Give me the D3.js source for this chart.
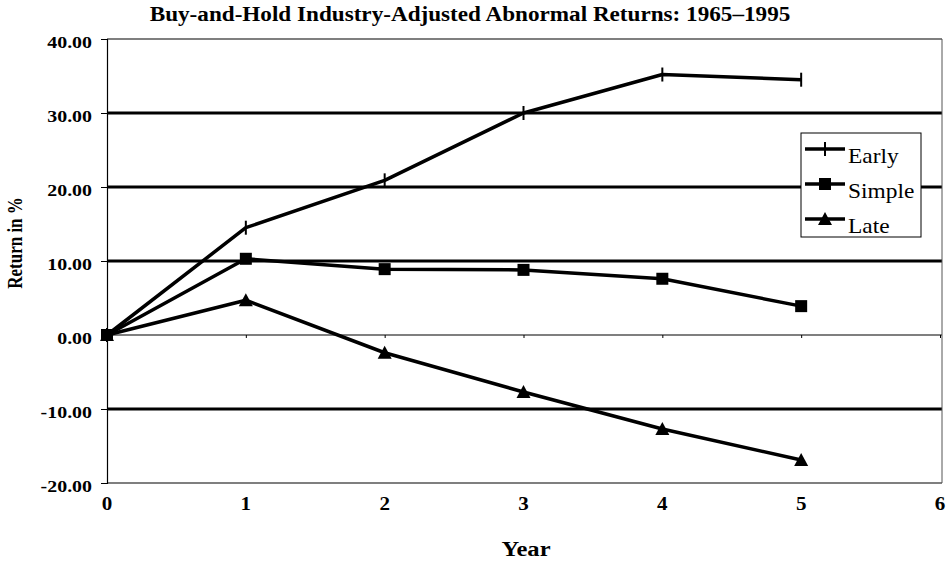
<!DOCTYPE html>
<html>
<head>
<meta charset="utf-8">
<script src="https://cdn.jsdelivr.net/npm/d3@7"></script>
<style>
  body { margin: 0; background: #fff; }
  svg { font-family: "Liberation Serif", "Times New Roman", serif; }
</style>
</head>
<body>
<svg id="chart" width="951" height="562"></svg>
<script>
// values
var years = [0, 1, 2, 3, 4, 5];
var early = [0, 14.5, 20.9, 30.0, 35.2, 34.5];
var simple = [0, 10.3, 8.9, 8.8, 7.6, 3.9];
var late = [0, 4.7, -2.4, -7.7, -12.7, -16.9];
var seriesNames = ["Early", "Simple", "Late"];
var yTicks = [-20, -10, 0, 10, 20, 30, 40];
var xTicks = [0, 1, 2, 3, 4, 5, 6];

var svg = d3.select("#chart");

var x = d3.scaleLinear().domain([0, 6]).range([107, 940]);
var y = d3.scaleLinear().domain([-20, 40]).range([483, 39]);

// the scanned original is a bit stretched sideways, so text gets widened
var SX = 1.17;

var wideText = (g, tx, ty, size, bold, anchor, str, sx) => {
  return g.append("text")
    .attr("transform", "translate(" + tx + "," + ty + ") scale(" + (sx || SX) + ",1)")
    .attr("text-anchor", anchor)
    .style("font-weight", bold ? "bold" : "normal")
    .style("font-size", size + "px")
    .text(str);
};

/* title */
wideText(svg, 470, 21, 20.5, true, "middle",
  "Buy-and-Hold Industry-Adjusted Abnormal Returns: 1965\u20131995", 1.13);

/* gridlines: heavy ones inside, thin for 0 and the frame */
svg.append("g")
  .selectAll("line")
  .data(yTicks)
  .enter()
  .append("line")
  .attr("x1", x(0))
  .attr("x2", x(6) + 2)
  .attr("y1", (d) => y(d))
  .attr("y2", (d) => y(d))
  .attr("stroke", "#000")
  .attr("stroke-width", (d) => {
    if (d == 0 || d == 40 || d == -20) {
      return 1.2;
    } else {
      return 3;
    }
  });

// right border of the plot
svg.append("line")
  .attr("x1", x(6) + 2).attr("x2", x(6) + 2)
  .attr("y1", y(40)).attr("y2", y(-20))
  .attr("stroke", "#555")
  .attr("stroke-width", 1);

/* y axis */
var yAxis = d3.axisLeft(y)
  .tickValues(yTicks)
  .tickSize(6)
  .tickFormat("");
var gy = svg.append("g")
  .attr("transform", "translate(" + x(0) + ",0)")
  .call(yAxis);
gy.select(".domain").attr("stroke-width", 1.2);

var fmt = d3.format(".2f");
var yLabels = svg.append("g");
yTicks.forEach((d) => {
  // plain hyphen for negatives, like the original
  wideText(yLabels, 92, y(d) + 9, 17, true, "end", fmt(d).replace("\u2212", "-"));
});

/* x axis: tiny ticks on the zero line, labels below the plot */
var xAxis = d3.axisBottom(x)
  .tickValues(xTicks)
  .tickSize(3)
  .tickFormat("");
var gx = svg.append("g")
  .attr("transform", "translate(0," + y(0) + ")")
  .call(xAxis);
gx.select(".domain").remove();

var xLabels = svg.append("g");
xTicks.forEach((d) => {
  wideText(xLabels, x(d), 510, 18, true, "middle", d);
});

/* axis titles */
wideText(svg, 526, 556, 21, true, "middle", "Year");

svg.append("text")
  .attr("transform", "translate(22,243) rotate(-90) scale(0.85,1)")
  .attr("text-anchor", "middle")
  .style("font-weight", "bold")
  .style("font-size", "20px")
  .text("Return in %");

/* lines */
var allSeries = [early, simple, late];
var line = d3.line()
  .x((d, i) => x(years[i]))
  .y((d) => y(d));

svg.append("g")
  .selectAll("path")
  .data(allSeries)
  .enter()
  .append("path")
  .attr("d", line)
  .attr("fill", "none")
  .attr("stroke", "#000")
  .attr("stroke-width", 3.5)
  .attr("stroke-linejoin", "round");

/* markers */
var drawMarker = (g, kind, cx, cy) => {
  if (kind == "Early") {
    g.append("line")
      .attr("x1", cx).attr("x2", cx)
      .attr("y1", cy - 7).attr("y2", cy + 7)
      .attr("stroke", "#000").attr("stroke-width", 2);
  } else if (kind == "Simple") {
    g.append("rect")
      .attr("x", cx - 6).attr("y", cy - 6)
      .attr("width", 12).attr("height", 12)
      .attr("fill", "#000");
  } else {
    g.append("path")
      .attr("d", "M" + cx + "," + (cy - 7) + "L" + (cx + 7) + "," + (cy + 6) + "L" + (cx - 7) + "," + (cy + 6) + "Z")
      .attr("fill", "#000");
  }
};

var markers = svg.append("g");
allSeries.forEach((s, k) => {
  s.forEach((v, i) => {
    drawMarker(markers, seriesNames[k], x(years[i]), y(v));
  });
});

/* legend */
var legend = svg.append("g");
legend.append("rect")
  .attr("x", 801).attr("y", 133)
  .attr("width", 120).attr("height", 104)
  .attr("fill", "#fff")
  .attr("stroke", "#000")
  .attr("stroke-width", 1);

seriesNames.forEach((name, k) => {
  var ly = 149 + k * 35;
  legend.append("line")
    .attr("x1", 805).attr("x2", 845)
    .attr("y1", ly).attr("y2", ly)
    .attr("stroke", "#000").attr("stroke-width", 3.5);
  drawMarker(legend, name, 825, ly);
  wideText(legend, 848, ly + 14, 20, false, "start", name);
});
</script>
</body>
</html>
